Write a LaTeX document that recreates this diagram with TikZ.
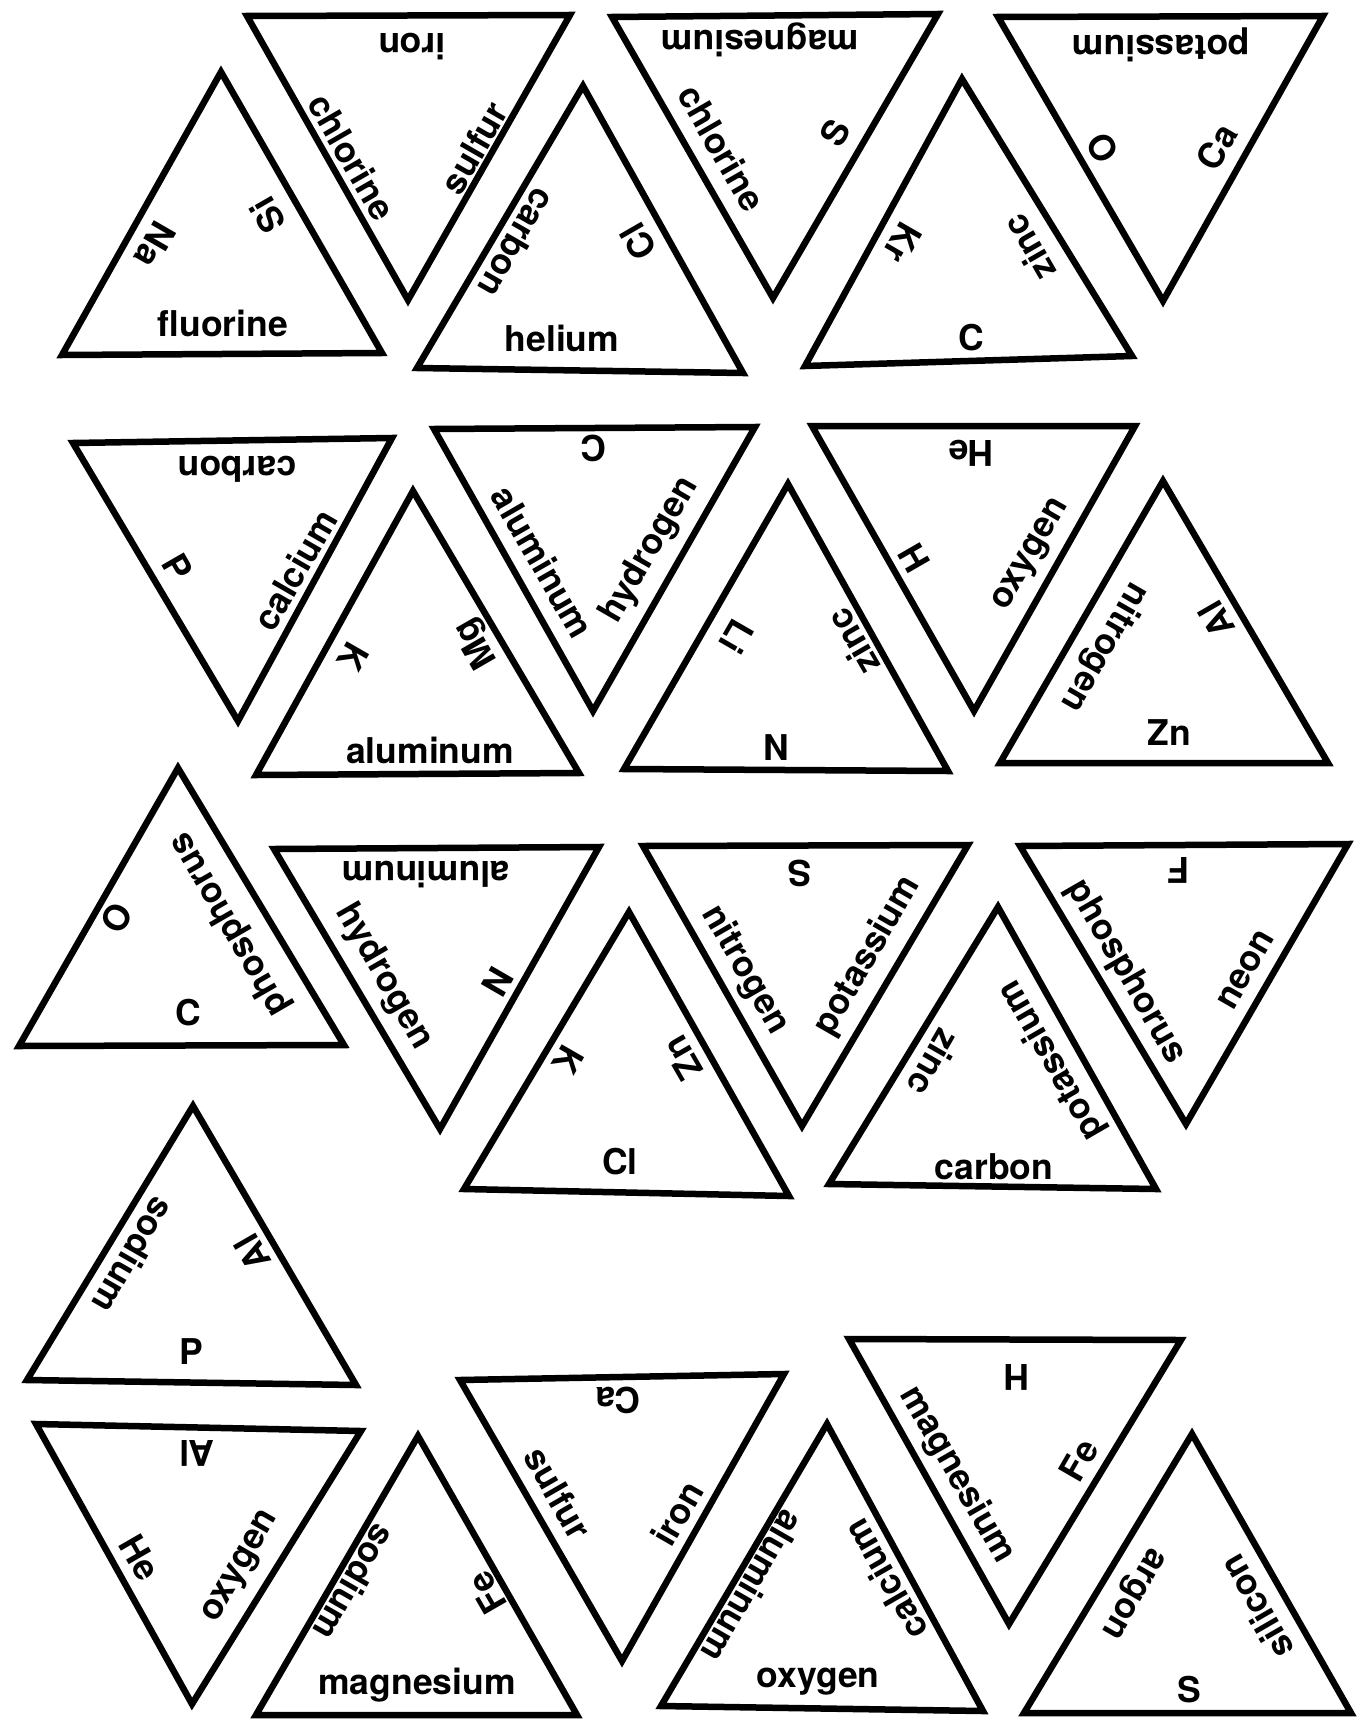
\documentclass[tikz,border=0pt]{standalone}
\usepackage{fontspec}
\setmainfont{TeX Gyre Heros}
\begin{document}
\begin{tikzpicture}[x=1pt,y=-1pt,
  piece/.style={draw=black, line width=6.5pt, line join=miter},
  lbl/.style={font=\fontsize{35.5}{40}\selectfont\bfseries, inner sep=0pt, anchor=center},
  ub/.style={lbl},
  ul/.style={lbl,rotate=-120},
  ur/.style={lbl,rotate=120},
  dt/.style={lbl,rotate=180},
  dl/.style={lbl,rotate=-60},
  dr/.style={lbl,rotate=60}]
\fill[white] (0,0) rectangle (1364,1720);
\useasboundingbox (0,0) rectangle (1364,1720);

% T1 up
\coordinate (t1a) at (221,72); \coordinate (t1b) at (62,355); \coordinate (t1c) at (382,353);
\draw[piece] (t1a) -- (t1b) -- (t1c) -- cycle;
\node[ub] (t1x) at (223,323) {fluorine};
\node[ul] (t1y) at (155,245) {Na};
\node[ur] (t1z) at (268,215) {Si};

% T2 down
\coordinate (t2a) at (247,16); \coordinate (t2b) at (570,15); \coordinate (t2c) at (408,300);
\draw[piece] (t2a) -- (t2b) -- (t2c) -- cycle;
\node[dt] (t2x) at (412,47) {iron};
\node[dl] (t2y) at (352,157) {chlorine};
\node[dr] (t2z) at (474,148) {sulfur};

% T3 up
\coordinate (t3a) at (583,86); \coordinate (t3b) at (417,368); \coordinate (t3c) at (743,373);
\draw[piece] (t3a) -- (t3b) -- (t3c) -- cycle;
\node[ub] (t3x) at (562,338) {helium};
\node[ul] (t3y) at (517,243) {carbon};
\node[ur] (t3z) at (638,242) {Cl};

% T4 down
\coordinate (t4a) at (612,17); \coordinate (t4b) at (938,14); \coordinate (t4c) at (773,298);
\draw[piece] (t4a) -- (t4b) -- (t4c) -- cycle;
\node[dt] (t4x) at (760,40) {magnesium};
\node[dl] (t4y) at (722,148) {chlorine};
\node[dr] (t4z) at (835,133) {S};

% T5 up
\coordinate (t5a) at (962,79); \coordinate (t5b) at (805,366); \coordinate (t5c) at (1132,356);
\draw[piece] (t5a) -- (t5b) -- (t5c) -- cycle;
\node[ub] (t5x) at (971,338) {C};
\node[ul] (t5y) at (903,243) {Kr};
\node[ur] (t5z) at (1029,248) {zinc};

% T6 down
\coordinate (t6a) at (998,17); \coordinate (t6b) at (1323,16); \coordinate (t6c) at (1163,301);
\draw[piece] (t6a) -- (t6b) -- (t6c) -- cycle;
\node[dt] (t6x) at (1161,45) {potassium};
\node[dl] (t6y) at (1103,148) {O};
\node[dr] (t6z) at (1217,147) {Ca};

% T7 down
\coordinate (t7a) at (73,443); \coordinate (t7b) at (392,438); \coordinate (t7c) at (238,721);
\draw[piece] (t7a) -- (t7b) -- (t7c) -- cycle;
\node[dt] (t7x) at (237,469) {carbon};
\node[dl] (t7y) at (178,567) {P};
\node[dr] (t7z) at (295,570) {calcium};

% T8 up
\coordinate (t8a) at (413,491); \coordinate (t8b) at (256,775); \coordinate (t8c) at (579,773);
\draw[piece] (t8a) -- (t8b) -- (t8c) -- cycle;
\node[ub] (t8x) at (430,750) {aluminum};
\node[ul] (t8y) at (353,657) {K};
\node[ur] (t8z) at (477,643) {Mg};

% T9 down
\coordinate (t9a) at (434,429); \coordinate (t9b) at (755,427); \coordinate (t9c) at (593,711);
\draw[piece] (t9a) -- (t9b) -- (t9c) -- cycle;
\node[dt] (t9x) at (594,448) {C};
\node[dl] (t9y) at (543,562) {aluminum};
\node[dr] (t9z) at (650,550) {hydrogen};

% T10 up
\coordinate (t10a) at (788,484); \coordinate (t10b) at (624,769); \coordinate (t10c) at (948,771);
\draw[piece] (t10a) -- (t10b) -- (t10c) -- cycle;
\node[ub] (t10x) at (776,748) {N};
\node[ul] (t10y) at (737,637) {Li};
\node[ur] (t10z) at (853,642) {zinc};

% T11 down
\coordinate (t11a) at (812,426); \coordinate (t11b) at (1135,426); \coordinate (t11c) at (974,711);
\draw[piece] (t11a) -- (t11b) -- (t11c) -- cycle;
\node[dt] (t11x) at (971,453) {He};
\node[dl] (t11y) at (914,558) {H};
\node[dr] (t11z) at (1032,555) {oxygen};

% T12 up
\coordinate (t12a) at (1163,481); \coordinate (t12b) at (1000,763); \coordinate (t12c) at (1328,763);
\draw[piece] (t12a) -- (t12b) -- (t12c) -- cycle;
\node[ub] (t12x) at (1169,733) {Zn};
\node[ul] (t12y) at (1104,647) {nitrogen};
\node[ur] (t12z) at (1216,620) {Al};

% T13 up
\coordinate (t13a) at (178,768); \coordinate (t13b) at (19,1046); \coordinate (t13c) at (344,1045);
\draw[piece] (t13a) -- (t13b) -- (t13c) -- cycle;
\node[ub] (t13x) at (188,1013) {C};
\node[ul] (t13y) at (117,918) {O};
\node[ur] (t13z) at (230,924) {phosphorus};

% T14 down
\coordinate (t14a) at (274,849); \coordinate (t14b) at (599,847); \coordinate (t14c) at (440,1129);
\draw[piece] (t14a) -- (t14b) -- (t14c) -- cycle;
\node[dt] (t14x) at (426,875) {aluminum};
\node[dl] (t14y) at (384,977) {hydrogen};
\node[dr] (t14z) at (498,982) {N};

% T15 up
\coordinate (t15a) at (629,912); \coordinate (t15b) at (464,1189); \coordinate (t15c) at (789,1196);
\draw[piece] (t15a) -- (t15b) -- (t15c) -- cycle;
\node[ub] (t15x) at (620,1162) {Cl};
\node[ul] (t15y) at (568,1060) {K};
\node[ur] (t15z) at (682,1058) {Zn};

% T16 down
\coordinate (t16a) at (643,846); \coordinate (t16b) at (968,845); \coordinate (t16c) at (802,1126);
\draw[piece] (t16a) -- (t16b) -- (t16c) -- cycle;
\node[dt] (t16x) at (800,873) {S};
\node[dl] (t16y) at (745,970) {nitrogen};
\node[dr] (t16z) at (868,956) {potassium};

% T17 up
\coordinate (t17a) at (998,907); \coordinate (t17b) at (829,1184); \coordinate (t17c) at (1156,1189);
\draw[piece] (t17a) -- (t17b) -- (t17c) -- cycle;
\node[ub] (t17x) at (994,1167) {carbon};
\node[ul] (t17y) at (934,1063) {zinc};
\node[ur] (t17z) at (1052,1060) {potassium};

% T18 down
\coordinate (t18a) at (1020,846); \coordinate (t18b) at (1348,844); \coordinate (t18c) at (1186,1124);
\draw[piece] (t18a) -- (t18b) -- (t18c) -- cycle;
\node[dt] (t18x) at (1179,870) {F};
\node[dl] (t18y) at (1126,972) {phosphorus};
\node[dr] (t18z) at (1246,970) {neon};

% T19 up
\coordinate (t19a) at (193,1106); \coordinate (t19b) at (27,1380); \coordinate (t19c) at (356,1385);
\draw[piece] (t19a) -- (t19b) -- (t19c) -- cycle;
\node[ub] (t19x) at (191,1352) {P};
\node[ul] (t19y) at (134,1256) {sodium};
\node[ur] (t19z) at (252,1253) {Al};

% T20 down
\coordinate (t20a) at (36,1424); \coordinate (t20b) at (361,1431); \coordinate (t20c) at (192,1704);
\draw[piece] (t20a) -- (t20b) -- (t20c) -- cycle;
\node[dt] (t20x) at (197,1453) {Al};
\node[dl] (t20y) at (140,1558) {He};
\node[dr] (t20z) at (242,1567) {oxygen};

% T21 up
\coordinate (t21a) at (418,1436); \coordinate (t21b) at (256,1715); \coordinate (t21c) at (577,1715);
\draw[piece] (t21a) -- (t21b) -- (t21c) -- cycle;
\node[ub] (t21x) at (417,1685) {magnesium};
\node[ul] (t21y) at (355,1583) {sodium};
\node[ur] (t21z) at (487,1593) {Fe};

% T22 down
\coordinate (t22a) at (460,1380); \coordinate (t22b) at (784,1374); \coordinate (t22c) at (622,1661);
\draw[piece] (t22a) -- (t22b) -- (t22c) -- cycle;
\node[dt] (t22x) at (618,1400) {Ca};
\node[dl] (t22y) at (558,1493) {sulfur};
\node[dr] (t22z) at (677,1513) {iron};

% T23 up
\coordinate (t23a) at (827,1424); \coordinate (t23b) at (661,1706); \coordinate (t23c) at (983,1711);
\draw[piece] (t23a) -- (t23b) -- (t23c) -- cycle;
\node[ub] (t23x) at (818,1682) {oxygen};
\node[ul] (t23y) at (753,1587) {aluminum};
\node[ur] (t23z) at (885,1580) {calcium};

% T24 down
\coordinate (t24a) at (849,1339); \coordinate (t24b) at (1181,1340); \coordinate (t24c) at (1009,1624);
\draw[piece] (t24a) -- (t24b) -- (t24c) -- cycle;
\node[dt] (t24x) at (1017,1377) {H};
\node[dl] (t24y) at (957,1475) {magnesium};
\node[dr] (t24z) at (1079,1460) {Fe};

% T25 up
\coordinate (t25a) at (1192,1434); \coordinate (t25b) at (1024,1713); \coordinate (t25c) at (1351,1713);
\draw[piece] (t25a) -- (t25b) -- (t25c) -- cycle;
\node[ub] (t25x) at (1189,1690) {S};
\node[ul] (t25y) at (1131,1592) {argon};
\node[ur] (t25z) at (1256,1607) {silicon};
\end{tikzpicture}
\end{document}
